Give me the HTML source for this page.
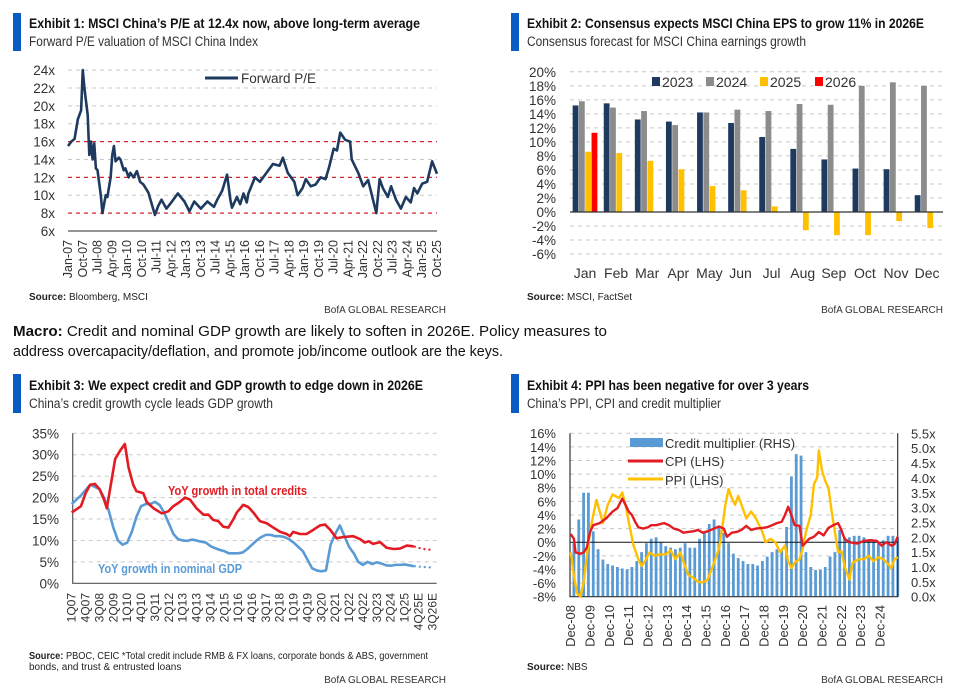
<!DOCTYPE html>
<html><head><meta charset="utf-8"><style>
html,body{margin:0;padding:0;background:#fff;}
svg{display:block;font-family:"Liberation Sans",sans-serif;}
</style></head><body>
<svg id="s" width="965" height="694" viewBox="0 0 965 694" xmlns="http://www.w3.org/2000/svg">
<rect width="965" height="694" fill="#fff"/>
<!-- headers -->
<g>
<rect x="13" y="13" width="8" height="38" fill="#0a5bc4"/>
<text x="29" y="28" font-size="14" font-weight="bold" fill="#111" textLength="391" lengthAdjust="spacingAndGlyphs">Exhibit 1: MSCI China’s P/E at 12.4x now, above long-term average</text>
<text x="29" y="46" font-size="13.5" fill="#333" textLength="229" lengthAdjust="spacingAndGlyphs">Forward P/E valuation of MSCI China Index</text>
<text x="29" y="300" font-size="10" fill="#222"><tspan font-weight="bold">Source:</tspan> Bloomberg, MSCI</text>
<text x="446" y="313" font-size="10" fill="#333" text-anchor="end">BofA GLOBAL RESEARCH</text>
</g>
<g>
<rect x="511" y="13" width="8" height="38" fill="#0a5bc4"/>
<text x="527" y="28" font-size="14" font-weight="bold" fill="#111" textLength="397" lengthAdjust="spacingAndGlyphs">Exhibit 2: Consensus expects MSCI China EPS to grow 11% in 2026E</text>
<text x="527" y="46" font-size="13.5" fill="#333" textLength="279" lengthAdjust="spacingAndGlyphs">Consensus forecast for MSCI China earnings growth</text>
<text x="527" y="300" font-size="10" fill="#222"><tspan font-weight="bold">Source:</tspan> MSCI, FactSet</text>
<text x="943" y="313" font-size="10" fill="#333" text-anchor="end">BofA GLOBAL RESEARCH</text>
</g>
<g>
<text x="13" y="336" font-size="15" fill="#111" textLength="594" lengthAdjust="spacingAndGlyphs"><tspan font-weight="bold">Macro:</tspan> Credit and nominal GDP growth are likely to soften in 2026E. Policy measures to</text>
<text x="13" y="356" font-size="15" fill="#111" textLength="490" lengthAdjust="spacingAndGlyphs">address overcapacity/deflation, and promote job/income outlook are the keys.</text>
</g>
<g>
<rect x="13" y="374" width="8" height="39" fill="#0a5bc4"/>
<text x="29" y="390" font-size="14" font-weight="bold" fill="#111" textLength="394" lengthAdjust="spacingAndGlyphs">Exhibit 3: We expect credit and GDP growth to edge down in 2026E</text>
<text x="29" y="408" font-size="13.5" fill="#333" textLength="244" lengthAdjust="spacingAndGlyphs">China’s credit growth cycle leads GDP growth</text>
<text x="29" y="659" font-size="10" fill="#222" textLength="399" lengthAdjust="spacingAndGlyphs"><tspan font-weight="bold">Source:</tspan> PBOC, CEIC *Total credit include RMB &amp; FX loans, corporate bonds &amp; ABS, government</text>
<text x="29" y="670" font-size="10" fill="#222">bonds, and trust &amp; entrusted loans</text>
<text x="446" y="683" font-size="10" fill="#333" text-anchor="end">BofA GLOBAL RESEARCH</text>
</g>
<g>
<rect x="511" y="374" width="8" height="39" fill="#0a5bc4"/>
<text x="527" y="390" font-size="14" font-weight="bold" fill="#111" textLength="282" lengthAdjust="spacingAndGlyphs">Exhibit 4: PPI has been negative for over 3 years</text>
<text x="527" y="408" font-size="13.5" fill="#333" textLength="194" lengthAdjust="spacingAndGlyphs">China’s PPI, CPI and credit multiplier</text>
<text x="527" y="670" font-size="10" fill="#222"><tspan font-weight="bold">Source:</tspan> NBS</text>
<text x="943" y="683" font-size="10" fill="#333" text-anchor="end">BofA GLOBAL RESEARCH</text>
</g>
<g id="c1"></g>
<g id="c2"></g>
<g id="c3"></g>
<g id="c4"></g>
</svg>
<script>
// ---------- Chart 1 data ----------
const peMonths=[0,2,4,6,8,9,10,12,13,14,15,16,17,18,20,21,23,24,26,27,28,29,31,32,34,35,37,38,40,42,44,46,49,53,55,57,60,63,67,71,74,77,81,85,89,91,94,97,99,100,103,105,107,109,110,114,117,121,125,129,131,134,138,140,143,145,148,151,154,157,159,162,164,166,169,172,173,177,180,183,188,190,192,195,197,200,203,206,209,211,213,216,219,222,225];
const peValues=[15.5,16,16.3,18.5,19.5,24,22,19,14.5,16,14,15.8,13,12.8,10,8,10,9.8,12,14.5,15.5,13.8,14.2,14,12.8,13,12,12.5,12,12.7,11.5,11.2,10.3,7.8,8.8,9.5,8.5,9.2,10.2,9.3,8.2,9.3,8.5,9.3,8.7,9.5,10.5,12.3,9.5,8.6,9.8,9,10.2,9.2,10.2,12,11.5,12.5,13.5,13.3,14.2,12.5,11.5,10,10.8,11.8,11,11.2,12,11.8,13,15.2,15,17,16.2,16,14,12.5,11,11.7,8,11.8,10.8,9.8,11,9.5,8.5,9.8,9.2,10.8,10.2,11.3,11.5,13.8,12.4];
const peTicks=[6,8,10,12,14,16,18,20,22,24];
const peRefLines=[8,12,16];
const peXLabels=["Jan-07","Oct-07","Jul-08","Apr-09","Jan-10","Oct-10","Jul-11","Apr-12","Jan-13","Oct-13","Jul-14","Apr-15","Jan-16","Oct-16","Jul-17","Apr-18","Jan-19","Oct-19","Jul-20","Apr-21","Jan-22","Oct-22","Jul-23","Apr-24","Jan-25","Oct-25"];
// ---------- Chart 2 data ----------
const epsMonths=["Jan","Feb","Mar","Apr","May","Jun","Jul","Aug","Sep","Oct","Nov","Dec"];
const eps2023=[15.2,15.5,13.2,12.9,14.2,12.7,10.7,9.0,7.5,6.2,6.1,2.4];
const eps2024=[15.8,14.9,14.4,12.4,14.2,14.6,14.4,15.4,15.3,18.0,18.5,18.0];
const eps2025=[8.6,8.4,7.3,6.1,3.7,3.1,0.8,-2.6,-3.3,-3.3,-1.3,-2.3];
const eps2026=[11.3,null,null,null,null,null,null,null,null,null,null,null];
const epsTicks=[-6,-4,-2,0,2,4,6,8,10,12,14,16,18,20];
const epsSeriesNames=["2023","2024","2025","2026"];
// ---------- Chart 3 data ----------
const creditQ=[0,2,3,4,5,6,7,7.6,9.4,10.5,11.5,12.3,13.3,14,15.5,16.2,17.7,19.5,20.9,22,23.4,24.5,25.6,27,28.5,29.6,30.6,31.7,32.8,33.9,35,35.7,37.1,38.2,39.3,40.7,42.2,43.6,45.1,46.5,47.2,47.9,49.4,50.8,52.3,53.7,54.8,55.9,57.3,58.8,60.9,62.4,63.4,64.2,65.2,66.7,68.1,69.6,71,72.5,74];
const creditV=[16.5,18,21,23,23.2,22,19.5,17.5,29,31,32.5,27,23,21.5,21,19,17.5,16.3,16.8,18,19,20,19.5,17.5,16,16,14.8,14.5,13.2,13,15,16.5,18.3,17.8,16.5,14.5,14,13,12,11.5,11,12,11.5,11.5,12.5,13.5,13.7,12.5,10.5,10.8,11,10.3,9.5,9.8,9.2,9.6,8.3,8,8.1,8.8,8.6];
const creditFcQ=[74,76,78];
const creditFcV=[8.6,8.0,7.8];
const gdpQ=[0,2,4,6,7,8,9,10,11,12,13,14,15,16,17,18,19,20,21,22,23,24,25,26,27,28,29,30,31,32,33,34,35,36,37,38,39,40,41,42,43,44,45,46,47,48,49,50,51,52,53,54,55,56,57,58,59,60,61,62,63,64,65,66,67,68,69,70,71,72,73,74];
const gdpV=[18.5,20.5,23,22,20,17,13,10,9,9.5,12,15.5,18,18.5,18.5,19,18.3,16.5,14,11.5,10.3,10,9.9,10.2,10,9.7,9.5,8.7,8.2,7.8,7.5,7,7,7,7.2,8,9,10,10.8,11.3,11.3,11,11,10.8,10.3,9.5,8.5,7.5,5.5,3.5,3,2.8,3,9,11.5,13.5,11,8.5,7,5,4.3,5,4.5,4.9,4.6,4.2,4.1,4.3,4.3,4.4,4.2,4.0];
const gdpFcQ=[74,76,78];
const gdpFcV=[4.0,3.8,3.7];
const creditTicks=[0,5,10,15,20,25,30,35];
const creditXLabels=["1Q07","4Q07","3Q08","2Q09","1Q10","4Q10","3Q11","2Q12","1Q13","4Q13","3Q14","2Q15","1Q16","4Q16","3Q17","2Q18","1Q19","4Q19","3Q20","2Q21","1Q22","4Q22","3Q23","2Q24","1Q25","4Q25E","3Q26E"];
// ---------- Chart 4 data ----------
const multValues=[1.8,2.6,3.5,3.5,2.2,1.6,1.25,1.1,1.05,1.0,0.95,0.92,1.0,1.2,1.5,1.8,1.95,2.0,1.85,1.7,1.65,1.6,1.65,1.8,1.65,1.65,1.95,2.15,2.45,2.6,2.35,2.15,1.8,1.45,1.3,1.2,1.1,1.1,1.05,1.2,1.35,1.5,1.6,1.55,2.35,4.05,4.8,4.75,1.5,1.0,0.9,0.9,1.0,1.35,1.5,2.25,2.0,2.0,2.05,2.05,2.0,1.9,1.85,1.8,1.9,2.05,2.05,2.0];
const multStartMonth=2, multStepMonths=3;
const cpiM=[0,2,3,6,8,10,12,14,18,22,26,29,32,34,36,38,40,42,45,48,50,53,58,61,64,67,70,73,76,79,82,85,89,92,95,97,100,103,106,109,112,115,119,122,125,128,131,133,135,137,139,142,144,145,148,151,154,157,160,163,166,168,170,173,178,182,186,190,193,196,199,201,203];
const cpiV=[1.2,0.5,-1.5,-1.7,-1.5,-0.8,1.5,2.5,2.8,3.5,4.5,5,6.4,5.5,4.5,4,3,2.2,2,2.2,2.5,2.5,2.8,2.5,2,1.8,1.4,1.5,1.6,1.8,1.4,1.6,2,2.3,2,0.8,1.4,1.5,1.8,2.4,1.8,2,2.1,2.2,2.5,2.8,3,4,5.2,4,2.5,2.4,-0.5,-0.3,0.5,0.8,1.5,1,2.1,2.5,2.8,1.8,0.5,0,-0.2,0.2,0.3,0.2,-0.5,0,-0.5,-0.3,0.8];
const ppiM=[0,2,4,6,8,10,12,14,16,18,20,23,26,30,32,34,36,39,42,44,46,49,52,55,59,62,65,68,71,73,76,79,82,85,89,92,94,96,98,100,102,104,106,109,112,115,119,121,124,127,130,133,135,137,139,142,144,146,149,151,153,154,156,158,160,162,164,166,168,170,173,175,179,182,185,188,191,194,197,199,201,203];
const ppiV=[-1.5,-5,-7.5,-8,-6,-2,1.5,4,6.2,4.5,2.8,5.5,7,6.5,7.3,5.5,3,-0.5,-2.5,-3.5,-2.8,-1.5,-2,-1.8,-1.8,-1.2,-2.5,-1.5,-3.5,-4.8,-5.2,-5.8,-5.9,-5.5,-3,-1,2,5.5,7.8,6.5,5.5,6.8,5.5,3.5,4.5,3.5,1.5,0,0.5,0,-1.5,-0.5,-2.8,-3.8,-3,-2.5,-1,1.5,4,8.5,9.5,13.5,10.5,9,8,4.5,1.5,-1.5,-1.3,-3.5,-5.5,-3,-2.5,-2.5,-2,-2.8,-2.2,-2.5,-3.2,-3.8,-2.5,-2.2];
const leftTicks=[-8,-6,-4,-2,0,2,4,6,8,10,12,14,16];
const rightTicks=[0,0.5,1,1.5,2,2.5,3,3.5,4,4.5,5,5.5];
const ppiXLabels=["Dec-08","Dec-09","Dec-10","Dec-11","Dec-12","Dec-13","Dec-14","Dec-15","Dec-16","Dec-17","Dec-18","Dec-19","Dec-20","Dec-21","Dec-22","Dec-23","Dec-24"];

const NS="http://www.w3.org/2000/svg";
function mk(parent,tag,attrs,txt){const e=document.createElementNS(NS,tag);for(const k in attrs)e.setAttribute(k,attrs[k]);if(txt!==undefined)e.textContent=txt;parent.appendChild(e);return e;}
function pathOf(xs,ys,fx,fy){return xs.map((x,i)=>(i?'L':'M')+fx(x).toFixed(2)+','+fy(ys[i]).toFixed(2)).join('');}

// ===== Chart 1 =====
(function(){
const g=document.getElementById('c1');
const X0=68,X1=437;
const x=m=>X0+m*(X1-X0)/225;
const y=v=>231-(v-6)*8.94;
peTicks.forEach(t=>{
  if(t>6&&peRefLines.indexOf(t)<0){const l=mk(g,'line',{x1:X0,x2:X1,y1:y(t),y2:y(t),stroke:'#c8c8c8','stroke-dasharray':'4,4','stroke-width':1});
  
  }
  const tx=mk(g,'text',{x:55,y:y(t)+5,'font-size':13.5,'text-anchor':'end',fill:'#333'},t+'x');
  
  
});
peRefLines.forEach(t=>{const l=mk(g,'line',{x1:X0,x2:X1,y1:y(t),y2:y(t),stroke:'#d0272f','stroke-dasharray':'4,4','stroke-width':1.3});
  
  });
const ax=mk(g,'line',{x1:X0,x2:X1,y1:y(6),y2:y(6),stroke:'#555','stroke-width':1.2});


peXLabels.forEach((s,k)=>{const px=x(k*9)+4;
  const t=mk(g,'text',{x:0,y:0,transform:`translate(${px},240) rotate(-90)`,'font-size':12.5,'text-anchor':'end',fill:'#333'},s);
  
  });
const p=mk(g,'path',{d:pathOf(peMonths,peValues,x,y),fill:'none',stroke:'#1f3a5f','stroke-width':2.6,'stroke-linejoin':'round'});


const lg=mk(g,'g',{});


mk(lg,'line',{x1:205,x2:238,y1:78,y2:78,stroke:'#1f3a5f','stroke-width':3});
mk(lg,'text',{x:241,y:83,'font-size':13.5,fill:'#333'},'Forward P/E');
})();

// ===== Chart 2 =====
(function(){
const g=document.getElementById('c2');
const X0=570,X1=943;
const y=v=>212-v*7.01;
const cx=i=>585+i*31.1;
epsTicks.forEach(t=>{
  if(t!==0){const l=mk(g,'line',{x1:X0,x2:X1,y1:y(t),y2:y(t),stroke:'#c8c8c8','stroke-dasharray':'4,4','stroke-width':1});
  
  }
  const tx=mk(g,'text',{x:556,y:y(t)+5,'font-size':13.5,'text-anchor':'end',fill:'#333'},t+'%');
  
  
});
const series=[eps2023,eps2024,eps2025,eps2026];
const cols=['#1f3a5f','#8c8c8c','#ffc000','#ff0000'];
series.forEach((vals,j)=>{vals.forEach((v,i)=>{if(v===null)return;
  const bx=cx(i)+(j-1.5)*6.3-2.9;
  const r=mk(g,'rect',{x:bx,y:Math.min(y(v),y(0)),width:5.8,height:Math.abs(y(v)-y(0)),fill:cols[j]});
  
  });});
const z=mk(g,'line',{x1:X0,x2:X1,y1:y(0),y2:y(0),stroke:'#333','stroke-width':1.2});


epsMonths.forEach((m,i)=>{const t=mk(g,'text',{x:cx(i),y:278,'font-size':14,'text-anchor':'middle',fill:'#333'},m);
  
  });
const lx=[652,706,760,815];
epsSeriesNames.forEach((n,j)=>{const lg=mk(g,'g',{});
  
  
  mk(lg,'rect',{x:lx[j],y:77,width:8,height:9,fill:cols[j]});
  mk(lg,'text',{x:lx[j]+10,y:87,'font-size':14,fill:'#333'},n);});
})();

// ===== Chart 3 =====
(function(){
const g=document.getElementById('c3');
const X0=72.7,X1=436.7;
const x=q=>71.7+q*4.623;
const y=v=>583.3-v*4.286;
creditTicks.forEach(t=>{
  if(t>0){const l=mk(g,'line',{x1:X0,x2:X1,y1:y(t),y2:y(t),stroke:'#c8c8c8','stroke-dasharray':'4,4','stroke-width':1});
  
  }
  const tx=mk(g,'text',{x:59,y:y(t)+5,'font-size':13.5,'text-anchor':'end',fill:'#333'},t+'%');
  
  
});
const ax=mk(g,'path',{d:`M${X0},${y(35)}V${y(0)}H${X1}`,fill:'none',stroke:'#555','stroke-width':1.2});


creditXLabels.forEach((s,k)=>{const px=x(k*3)+4;
  const t=mk(g,'text',{x:0,y:0,transform:`translate(${px},593) rotate(-90)`,'font-size':12,'text-anchor':'end',fill:'#333'},s);
  
  });
const gp=mk(g,'path',{d:pathOf(gdpQ,gdpV,x,y),fill:'none',stroke:'#5b9bd5','stroke-width':2.6,'stroke-linejoin':'round'});


const gf=mk(g,'path',{d:pathOf(gdpFcQ,gdpFcV,x,y),fill:'none',stroke:'#5b9bd5','stroke-width':2,'stroke-dasharray':'2,3'});


const cp=mk(g,'path',{d:pathOf(creditQ,creditV,x,y),fill:'none',stroke:'#e31b23','stroke-width':2.6,'stroke-linejoin':'round'});


const cf=mk(g,'path',{d:pathOf(creditFcQ,creditFcV,x,y),fill:'none',stroke:'#e31b23','stroke-width':2,'stroke-dasharray':'2,3'});


const l1=mk(g,'text',{x:168,y:495,'font-size':13,'font-weight':'bold',fill:'#e31b23',textLength:139,lengthAdjust:'spacingAndGlyphs'},'YoY growth in total credits');


const l2=mk(g,'text',{x:98,y:573,'font-size':13,'font-weight':'bold',fill:'#5b9bd5',textLength:144,lengthAdjust:'spacingAndGlyphs'},'YoY growth in nominal GDP');


})();

// ===== Chart 4 =====
(function(){
const g=document.getElementById('c4');
const X0=570,X1=897.7;
const x=m=>570.7+m*1.611;
const yL=v=>542.2-v*6.81;
const yR=v=>596.7-v*29.7;
leftTicks.forEach(t=>{
  if(t!==0&&t!==-8){const l=mk(g,'line',{x1:X0,x2:X1,y1:yL(t),y2:yL(t),stroke:'#c8c8c8','stroke-dasharray':'4,4','stroke-width':1});
  
  }
  const tx=mk(g,'text',{x:556,y:yL(t)+5,'font-size':13,'text-anchor':'end',fill:'#333'},t+'%');
  
  
});
rightTicks.forEach(t=>{const tx=mk(g,'text',{x:911,y:yR(t)+5,'font-size':13,fill:'#333'},t.toFixed(1)+'x');
  
  });
multValues.forEach((v,i)=>{const m=multStartMonth+i*multStepMonths;
  const r=mk(g,'rect',{x:x(m)-1.4,y:yR(v),width:2.8,height:yR(0)-yR(v),fill:'#5b9bd5'});
  
  });
const z=mk(g,'line',{x1:X0,x2:X1,y1:yL(0),y2:yL(0),stroke:'#111','stroke-width':1});


const ax=mk(g,'path',{d:`M${X0},${yL(16)}V${yL(-8)}H${X1}V${yL(16)}`,fill:'none',stroke:'#333','stroke-width':1.2});


const pp=mk(g,'path',{d:pathOf(ppiM,ppiV,x,yL),fill:'none',stroke:'#ffc000','stroke-width':2.4,'stroke-linejoin':'round'});


const cp=mk(g,'path',{d:pathOf(cpiM,cpiV,x,yL),fill:'none',stroke:'#e31b23','stroke-width':2.4,'stroke-linejoin':'round'});


ppiXLabels.forEach((s,k)=>{const px=x(k*12)+4.5;
  const t=mk(g,'text',{x:0,y:0,transform:`translate(${px},605) rotate(-90)`,'font-size':13,'text-anchor':'end',fill:'#333'},s);
  
  });
const lg1=mk(g,'g',{});


mk(lg1,'rect',{x:630,y:438,width:33,height:9,fill:'#5b9bd5'});
mk(lg1,'text',{x:665,y:448,'font-size':13,fill:'#333'},'Credit multiplier (RHS)');
const lg2=mk(g,'g',{});


mk(lg2,'line',{x1:628,x2:663,y1:461,y2:461,stroke:'#e31b23','stroke-width':3});
mk(lg2,'text',{x:665,y:466,'font-size':13,fill:'#333'},'CPI (LHS)');
const lg3=mk(g,'g',{});


mk(lg3,'line',{x1:628,x2:663,y1:479,y2:479,stroke:'#ffc000','stroke-width':3});
mk(lg3,'text',{x:665,y:485,'font-size':13,fill:'#333'},'PPI (LHS)');
})();
</script>
</body></html>
